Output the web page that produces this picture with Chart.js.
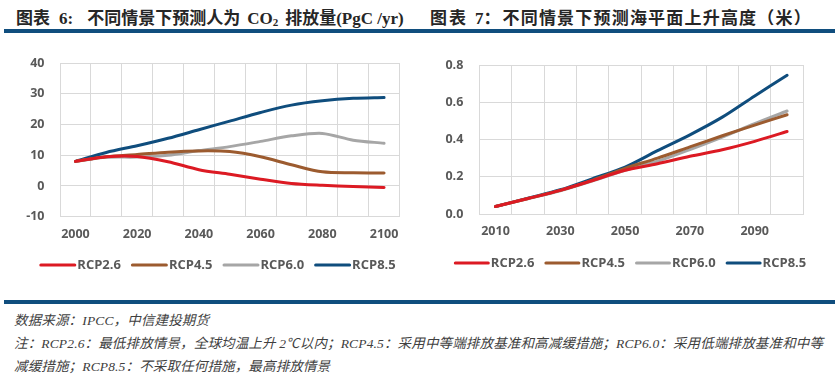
<!DOCTYPE html>
<html>
<head>
<meta charset="utf-8">
<script src="https://cdn.jsdelivr.net/npm/chart.js@4.4.1/dist/chart.umd.min.js"></script>
<style>
  html,body{margin:0;padding:0;background:#fff;}
  body{width:835px;height:375px;position:relative;overflow:hidden;}
  .title{position:absolute;top:4px;font:bold 17px "Liberation Serif","Noto Sans CJK SC",serif;color:#262626;white-space:nowrap;}
  .title span{display:inline-block;}
  .rule{position:absolute;left:4px;width:831px;height:3.5px;background:#104E7E;}
  .foot{position:absolute;left:14px;font:italic 13.5px "Liberation Serif","Noto Sans CJK SC",serif;color:#404040;white-space:nowrap;letter-spacing:0.15px;}
  .box{position:absolute;}
</style>
</head>
<body>
<div class="title" style="left:16px;"><span>图表</span><span style="margin-left:9px;">6:</span><span style="margin-left:14px;">不同情景下预测人为</span><span style="margin-left:7px;">CO<sub style="font-size:11px;vertical-align:-2px;">2</sub></span><span style="margin-left:7px;">排放量</span><span>(PgC /yr)</span></div>
<div class="title" style="left:430px;"><span style="letter-spacing:2px;">图表</span><span style="margin-left:7px;">7：</span><span style="margin-left:2px;letter-spacing:1.2px;">不同情景下预测海平面上升高度（米）</span></div>
<div class="rule" style="top:29.3px;"></div>
<div class="box" style="left:0;top:40px;width:435px;height:252px;"><canvas id="c1"></canvas></div>
<div class="box" style="left:420px;top:40px;width:415px;height:252px;"><canvas id="c2"></canvas></div>
<div class="rule" style="top:300px;"></div>
<div class="foot" style="top:309px;">数据来源：IPCC，中信建投期货</div>
<div class="foot" style="top:332px;">注：RCP2.6：最低排放情景，全球均温上升 2℃以内；RCP4.5：采用中等端排放基准和高减缓措施；RCP6.0：采用低端排放基准和中等</div>
<div class="foot" style="top:355px;">减缓措施；RCP8.5：不采取任何措施，最高排放情景</div>
<script>
// ---- Chart 6: CO2 emissions (PgC/yr)
const emisYears = ['2000','2010','2020','2030','2040','2050','2060','2070','2080','2090','2100'];
const emisRCP26 = [8.0, 9.5, 9.6, 7.9, 5.3, 3.8, 2.2, 0.8, 0.2, -0.2, -0.5];
const emisRCP45 = [8.0, 9.5, 10.2, 11.0, 11.4, 11.2, 9.5, 6.9, 4.6, 4.3, 4.2];
const emisRCP60 = [8.0, 9.3, 9.4, 10.0, 11.5, 12.8, 14.5, 16.3, 17.1, 14.9, 13.9];
const emisRCP85 = [8.0, 10.9, 13.1, 15.5, 18.3, 21.1, 23.9, 26.3, 27.7, 28.5, 28.8];
const emisYTicks = [-10, 0, 10, 20, 30, 40];

// ---- Chart 7: sea level rise (m)
const seaYears = ['2010','2020','2030','2040','2050','2060','2070','2080','2090','2100'];
const seaRCP26 = [0.04, 0.083, 0.127, 0.18, 0.235, 0.27, 0.31, 0.345, 0.39, 0.443];
const seaRCP45 = [0.04, 0.083, 0.127, 0.182, 0.245, 0.30, 0.36, 0.42, 0.477, 0.533];
const seaRCP60 = [0.04, 0.082, 0.125, 0.178, 0.235, 0.283, 0.346, 0.413, 0.485, 0.553];
const seaRCP85 = [0.04, 0.085, 0.13, 0.19, 0.252, 0.34, 0.425, 0.52, 0.634, 0.745];
const seaYTicks = [0.0, 0.2, 0.4, 0.6, 0.8];

const seriesNames = ['RCP2.6','RCP4.5','RCP6.0','RCP8.5'];
const seriesColors = ['#DC1A23','#9C5B2F','#A6A6A6','#0F4D7D'];

const tickFont = {family:'"Open Sans", sans-serif', size:12.5, weight:'bold'};
const tickColor = '#595959';
const gridColor = '#D9D9D9';

function ds(vals, i){
  return {label:seriesNames[i], data:vals, borderColor:seriesColors[i], backgroundColor:seriesColors[i],
    borderWidth:3, pointRadius:0, tension:0.3, fill:false, borderCapStyle:'round'};
}

// legend drawn on the canvas from the chart's own datasets
const lineLegend = {
  id:'lineLegend',
  afterDraw(chart, args, opts){
    const ctx = chart.ctx;
    ctx.save();
    ctx.font = 'bold 13px "Open Sans", sans-serif';
    ctx.textBaseline = 'middle';
    const L = opts.lineLen, g = opts.gap, sp = opts.spacing;
    const items = chart.data.datasets.map(d=>({t:d.label, c:d.borderColor, w:ctx.measureText(d.label).width}));
    const total = items.reduce((a,it)=>a+L+g+it.w,0) + sp*(items.length-1);
    let x = opts.cx - total/2;
    const y = opts.cy;
    items.forEach(it=>{
      ctx.strokeStyle = it.c; ctx.lineWidth = 3; ctx.lineCap = 'round';
      ctx.beginPath(); ctx.moveTo(x+1.5, y); ctx.lineTo(x+L-1.5, y); ctx.stroke();
      ctx.fillStyle = tickColor; ctx.textAlign = 'left';
      ctx.fillText(it.t, x+L+g, y+0.5);
      x += L+g+it.w+sp;
    });
    ctx.restore();
  }
};

function makeChart(id, labels, data, yTicks, yFmt, pad, yW, xH, leg){
  return new Chart(document.getElementById(id), {
    type:'line',
    data:{labels:labels, datasets:data.map((d,i)=>ds(d,i))},
    plugins:[lineLegend],
    options:{
      responsive:true, maintainAspectRatio:false, animation:false,
      layout:{padding:pad},
      plugins:{
        legend:{display:false},
        tooltip:{enabled:false},
        lineLegend:leg
      },
      scales:{
        x:{type:'category', offset:true,
          grid:{offset:true, color:gridColor, lineWidth:1, drawTicks:false},
          border:{color:gridColor},
          ticks:{autoSkip:false, maxRotation:0, padding:10, color:tickColor, font:tickFont,
            callback:function(v,i){ return i%2===0 ? this.getLabelForValue(v) : ''; }},
          afterFit:s=>{s.height = xH;}
        },
        y:{min:yTicks[0], max:yTicks[yTicks.length-1],
          grid:{color:gridColor, lineWidth:1, drawTicks:false},
          border:{display:false},
          afterBuildTicks:s=>{s.ticks = yTicks.map(v=>({value:v}));},
          ticks:{padding:yW[1], color:tickColor, font:tickFont, callback:yFmt},
          afterFit:s=>{s.width = yW[0];}
        }
      }
    }
  });
}

makeChart('c1', emisYears, [emisRCP26, emisRCP45, emisRCP60, emisRCP85], emisYTicks,
  v=>String(v), {top:21.7, left:0, right:35.5, bottom:43.3}, [60, 15.5], 32,
  {cx:217.5, cy:225, lineLen:37, gap:1, spacing:10});
makeChart('c2', seaYears, [seaRCP26, seaRCP45, seaRCP60, seaRCP85], seaYTicks,
  v=>Number(v).toFixed(1), {top:25, left:0, right:31.7, bottom:45.5}, [59.3, 16], 32.5,
  {cx:210, cy:223, lineLen:36, gap:1, spacing:10});
</script>
</body>
</html>
